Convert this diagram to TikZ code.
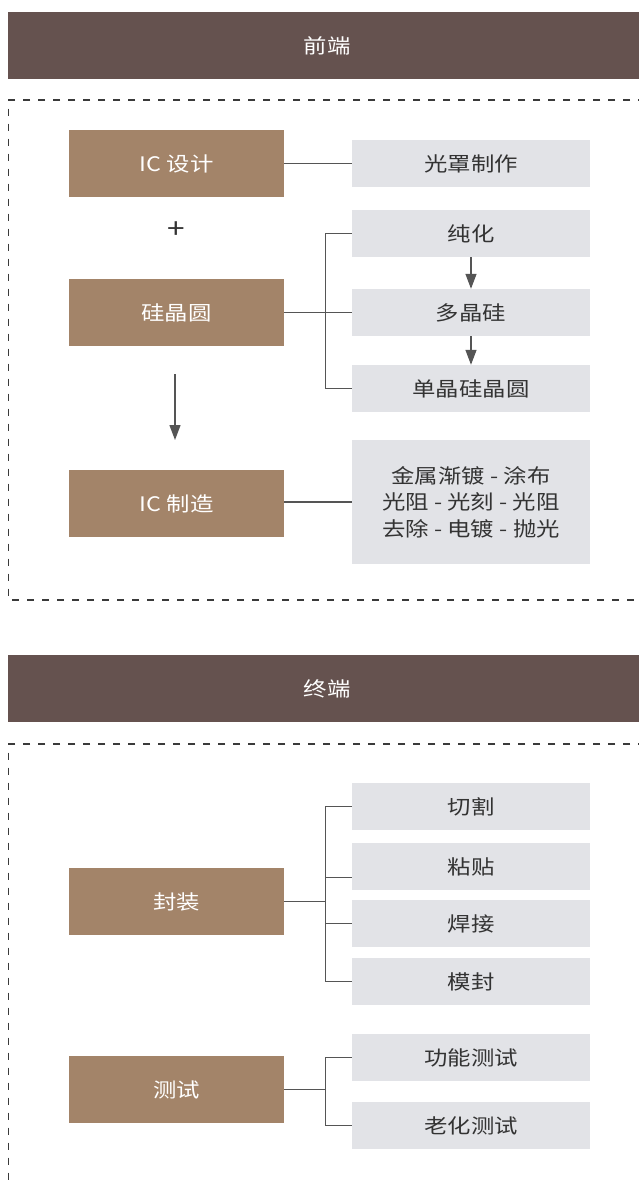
\documentclass[tikz,border=0pt]{standalone}
\usepackage{fontspec}
\newfontfamily\cjk[FakeStretch=1.17]{Noto Sans CJK SC}
\usetikzlibrary{arrows.meta}
\definecolor{hdrc}{HTML}{65524F}
\definecolor{brownc}{HTML}{A38469}
\definecolor{grayc}{HTML}{E2E3E7}
\definecolor{txtc}{HTML}{333333}
\definecolor{linec}{HTML}{555555}
\definecolor{dashc}{HTML}{3A3A3A}
\tikzset{
  hdr/.style={fill=hdrc, text=white, minimum width=638pt, minimum height=67pt, inner sep=0pt, font=\cjk\fontsize{20}{24}\selectfont},
  mainbox/.style={fill=brownc, text=white, minimum width=215pt, minimum height=67pt, inner sep=0pt, font=\cjk\fontsize{20}{24}\selectfont},
  subbox/.style={fill=grayc, text=txtc, minimum width=238pt, minimum height=47pt, inner sep=0pt, font=\cjk\fontsize{20}{24}\selectfont},
  conn/.style={draw=linec, line width=1.3pt},
  flow/.style={draw=linec, line width=1.3pt, -{Triangle[width=11pt,length=15pt]}},
  frame/.style={draw=dashc, line width=1.2pt, dash pattern=on 7pt off 8pt},
}
\begin{document}
\begin{tikzpicture}[x=1pt,y=-1pt]
\useasboundingbox (0,0) rectangle (639,1187);
\clip (0,0) rectangle (639,1187);
\fill[white] (0,0) rectangle (639,1187);

% headers
\node[hdr] (h1) at (327,45.5) {前端};
\node[hdr] (h2) at (327,688.5) {终端};

% dashed frames
\draw[frame] (660,100) -- (8.5,100) -- (8.5,600) -- (660,600);
\draw[frame] (660,744) -- (8.5,744) -- (8.5,1200);

% front end: main boxes
\node[mainbox] (icd) at (176.5,163.5) {IC 设计};
\node[mainbox] (wafer) at (176.5,312.5) {硅晶圆};
\node[mainbox] (icm) at (176.5,503.5) {IC 制造};
\node[font=\cjk\fontsize{27}{30}\selectfont, text=txtc, inner sep=0pt] (plus) at (176.5,230) {+};

% front end: sub boxes
\node[subbox] (mask) at (471,163.5) {光罩制作};
\node[subbox] (pur) at (471,233.5) {纯化};
\node[subbox] (poly) at (471,312.5) {多晶硅};
\node[subbox] (mono) at (471,388.5) {单晶硅晶圆};
\node[subbox, minimum height=124pt, align=center, font=\cjk\fontsize{20}{26.5}\selectfont] (proc) at (471,502)
  {金属渐镀 - 涂布\\光阻 - 光刻 - 光阻\\去除 - 电镀 - 抛光};

% front end connectors
\draw[conn] (icd.east) -- (mask.west);
\draw[conn] (wafer.east) -- (poly.west);
\draw[conn] (pur.west) -- ++(-26,0) |- (mono.west);
\draw[flow] (pur.south) -- (poly.north);
\draw[flow] (poly.south) -- (mono.north);
\draw[conn] (proc.west) -- (icm.east |- proc.west);
\coordinate (arA) at (175,374);
\coordinate (arB) at (175,440);
\draw[flow] (arA) -- (arB);

% back end: main boxes
\node[mainbox] (pack) at (176.5,901.5) {封装};
\node[mainbox] (test) at (176.5,1089.5) {测试};

% back end: sub boxes
\node[subbox] (cut) at (471,806.5) {切割};
\node[subbox] (paste) at (471,866.5) {粘贴};
\node[subbox] (weld) at (471,923.5) {焊接};
\node[subbox] (mold) at (471,981.5) {模封};
\node[subbox] (func) at (471,1057.5) {功能测试};
\node[subbox] (age) at (471,1125.5) {老化测试};

% back end connectors
\draw[conn] (cut.west) -- ++(-26,0) |- (mold.west);
\draw[conn] ([yshift=-11pt]paste.west) -- ++(-26,0);
\draw[conn] (weld.west) -- ++(-26,0);
\draw[conn] (pack.east) -- ++(41.5,0);
\draw[conn] (func.west) -- ++(-26,0) |- (age.west);
\draw[conn] (test.east) -- ++(41.5,0);
\end{tikzpicture}
\end{document}
